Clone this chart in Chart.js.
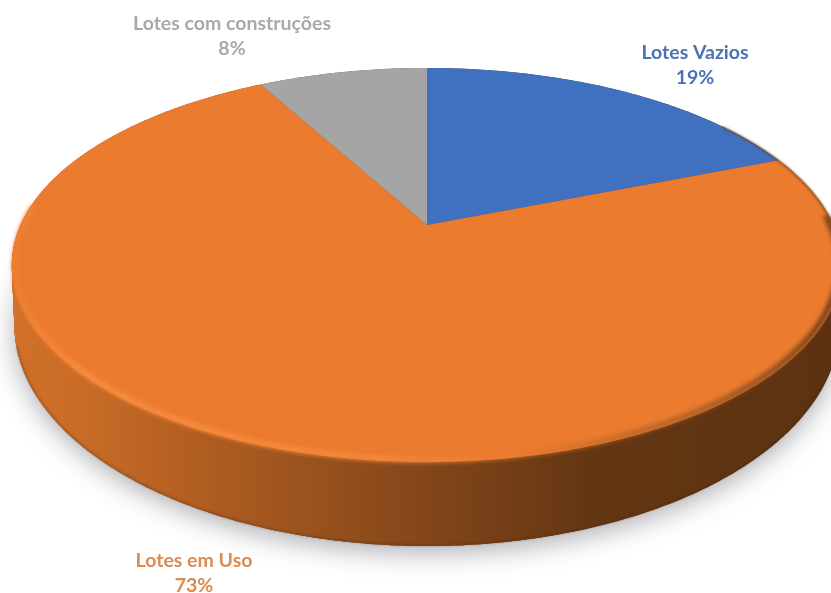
<!DOCTYPE html>
<html lang="pt">
<head>
<meta charset="utf-8">
<title>Lotes</title>
<script src="https://cdn.jsdelivr.net/npm/chart.js@4"></script>
<style>
  html, body { margin: 0; padding: 0; background: #fff; overflow: hidden; }
  canvas { display: block; }
</style>
</head>
<body>
<canvas id="pieCanvas" width="831" height="593"></canvas>
<script>
"use strict";

// ── Data ────────────────────────────────────────────────────────────────────
const categories  = ["Lotes Vazios", "Lotes em Uso", "Lotes com construções"];
const shareValues = [19, 73, 8];
const sliceColors = ["#4070C0", "#EA7B2F", "#A5A5A5"];
const labelColors = ["#4A72B4", "#DB8A50", "#A9A9A9"];

// ── Disc geometry ───────────────────────────────────────────────────────────
// Perspective view of a flat disc: z runs from -1 (far edge) to 1 (near edge).
const TOP_FACE    = { cx: 427, cy: 225, rx: 406.6, ry: 188.9, persp: 0.203 };
const BOTTOM_FACE = { cx: 427, cy: 280, rx: 404,   ry: 212,   persp: 0.203 };

// Label anchors (center x, first line y), same order as categories
const LABEL_POS   = [[695, 53], [194, 561], [232, 24]];
const LABEL_FONT  = "bold 19.5px Lato, Carlito, sans-serif";
const LINE_HEIGHT = 25;

function project(face, angle, r = 1) {
  const x = r * Math.cos(angle);
  const z = r * Math.sin(angle);
  const w = 1 - face.persp * z;
  return [face.cx + face.rx * x / w, face.cy + face.ry * z / w];
}

function lerpFace(a, b, t) {
  return {
    cx: a.cx,
    cy: a.cy + (b.cy - a.cy) * t,
    rx: a.rx + (b.rx - a.rx) * t,
    ry: a.ry + (b.ry - a.ry) * t,
    persp: a.persp,
  };
}

function traceArc(ctx, face, from, to, r = 1) {
  const steps = Math.max(8, Math.ceil(Math.abs(to - from) * 90));
  for (let i = 0; i <= steps; i++) {
    const [x, y] = project(face, from + (to - from) * i / steps, r);
    ctx.lineTo(x, y);
  }
}

function wallGradient(ctx) {
  const g = ctx.createLinearGradient(14, 0, 831, 0);
  g.addColorStop(0,    "#D0702A");
  g.addColorStop(0.08, "#C96C27");
  g.addColorStop(0.2,  "#B56022");
  g.addColorStop(0.35, "#9C531E");
  g.addColorStop(0.5,  "#84461A");
  g.addColorStop(0.7,  "#643713");
  g.addColorStop(1,    "#5C3211");
  return g;
}

// ── Side wall with its ground shadow ────────────────────────────────────────
function drawWall(ctx) {
  ctx.save();
  ctx.shadowColor = "rgba(70, 70, 80, 0.42)";
  ctx.shadowBlur = 26;
  ctx.shadowOffsetY = 7;
  ctx.fillStyle = "#5C3211";
  ctx.beginPath();
  traceArc(ctx, BOTTOM_FACE, 0, Math.PI * 2);
  ctx.closePath();
  ctx.fill();
  ctx.restore();

  // Stack of faces from the bottom up, gives the extruded silhouette
  ctx.fillStyle = wallGradient(ctx);
  for (let i = 60; i >= 0; i--) {
    ctx.beginPath();
    traceArc(ctx, lerpFace(TOP_FACE, BOTTOM_FACE, i / 60), 0, Math.PI * 2);
    ctx.closePath();
    ctx.fill();
  }

  // Thin dark line along the bottom edge
  ctx.save();
  ctx.filter = "blur(0.8px)";
  ctx.strokeStyle = "rgba(70, 35, 10, 0.45)";
  ctx.lineWidth = 1.2;
  ctx.beginPath();
  traceArc(ctx, BOTTOM_FACE, 0.45, Math.PI - 0.3, 0.998);
  ctx.stroke();
  ctx.restore();
}

// ── Bevel along the rim of the top face ─────────────────────────────────────
function drawBevel(ctx) {
  const g = ctx.createLinearGradient(14, 0, 831, 0);
  g.addColorStop(0,    "rgba(236, 126, 50, 1)");
  g.addColorStop(0.08, "rgba(248, 140, 64, 1)");
  g.addColorStop(0.45, "rgba(246, 136, 58, 0.95)");
  g.addColorStop(0.62, "rgba(234, 123, 47, 0.7)");
  g.addColorStop(0.8,  "rgba(160, 90, 38, 0.7)");
  g.addColorStop(1,    "rgba(105, 58, 22, 0.9)");

  ctx.save();
  ctx.filter = "blur(2px)";
  ctx.strokeStyle = g;
  ctx.lineWidth = 6;
  ctx.beginPath();
  traceArc(ctx, TOP_FACE, -0.05, Math.PI + 0.1, 0.992);
  ctx.stroke();

  // Upper right stretch of the rim stays thin
  ctx.filter = "blur(1px)";
  ctx.strokeStyle = "rgba(120, 70, 30, 0.7)";
  ctx.lineWidth = 2;
  ctx.beginPath();
  traceArc(ctx, TOP_FACE, -0.62, 0, 0.998);
  ctx.stroke();
  ctx.restore();
}

const perspectivePie = {
  id: "perspectivePie",
  beforeDatasetDraw(chart, args) {
    const { ctx } = chart;
    drawWall(ctx);
    args.meta.data.forEach((arc, i) => {
      const { startAngle, endAngle } = arc.getProps(["startAngle", "endAngle"], true);
      ctx.fillStyle = sliceColors[i];
      ctx.beginPath();
      ctx.moveTo(TOP_FACE.cx, TOP_FACE.cy);
      traceArc(ctx, TOP_FACE, startAngle, endAngle);
      ctx.closePath();
      ctx.fill();
    });
    drawBevel(ctx);
    return false;
  },
  afterDraw(chart) {
    const { ctx } = chart;
    ctx.save();
    ctx.font = LABEL_FONT;
    ctx.textAlign = "center";
    ctx.textBaseline = "middle";
    categories.forEach((name, i) => {
      const [x, y] = LABEL_POS[i];
      ctx.fillStyle = labelColors[i];
      ctx.fillText(name, x, y);
      ctx.fillText(shareValues[i] + "%", x, y + LINE_HEIGHT);
    });
    ctx.restore();
  },
};

// ── Chart ───────────────────────────────────────────────────────────────────
new Chart(document.getElementById("pieCanvas"), {
  type: "pie",
  data: {
    labels: categories,
    datasets: [{ data: shareValues, backgroundColor: sliceColors, borderWidth: 0 }],
  },
  options: {
    responsive: false,
    animation: false,
    plugins: { legend: { display: false }, tooltip: { enabled: false } },
  },
  plugins: [perspectivePie],
});
</script>
</body>
</html>
